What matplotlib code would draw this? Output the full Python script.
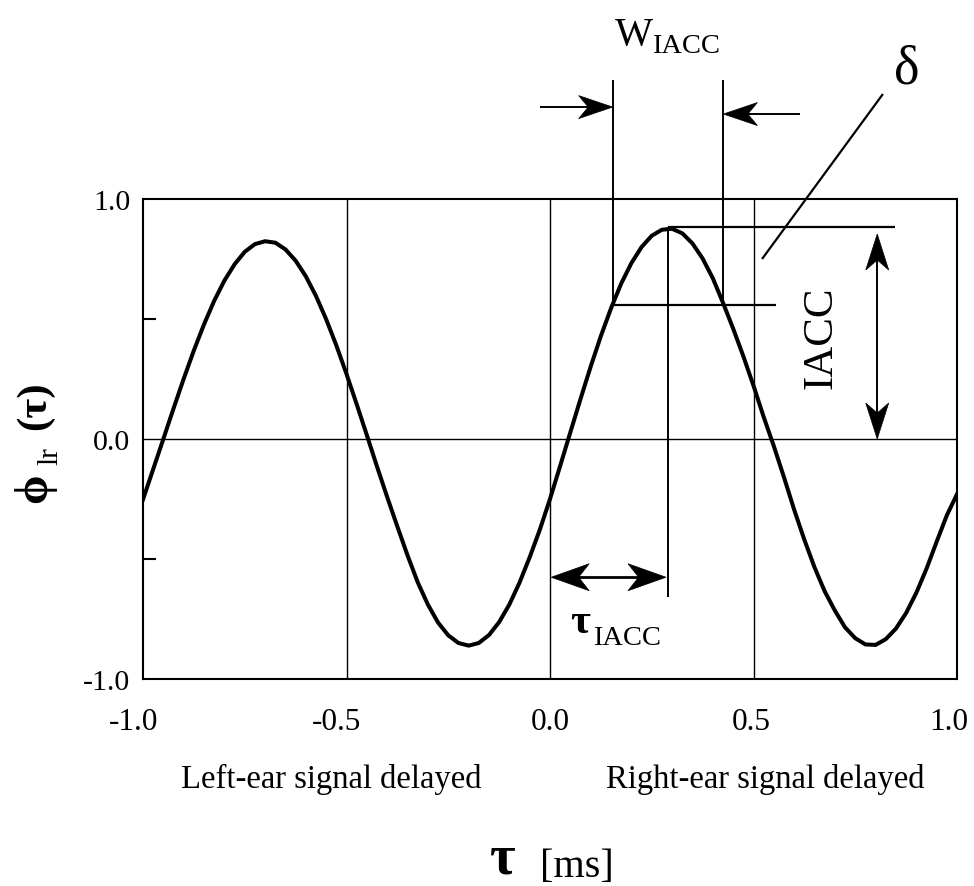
import matplotlib
matplotlib.use("Agg")
import matplotlib.pyplot as plt
from matplotlib.patches import Polygon
from matplotlib.transforms import Affine2D, ScaledTranslation
from matplotlib.ticker import FixedLocator

# Interaural cross-correlation function, sampled every 0.025 ms
tau = [-1.000, -0.975, -0.950, -0.925, -0.900, -0.875, -0.850, -0.825, -0.800,
       -0.775, -0.750, -0.725, -0.700, -0.675, -0.650, -0.625, -0.600, -0.575,
       -0.550, -0.525, -0.500, -0.475, -0.450, -0.425, -0.400, -0.375, -0.350,
       -0.325, -0.300, -0.275, -0.250, -0.225, -0.200, -0.175, -0.150, -0.125,
       -0.100, -0.075, -0.050, -0.025, 0.000, 0.025, 0.050, 0.075, 0.100,
       0.125, 0.150, 0.175, 0.200, 0.225, 0.250, 0.275, 0.300, 0.325,
       0.350, 0.375, 0.400, 0.425, 0.450, 0.475, 0.500, 0.525, 0.550,
       0.575, 0.600, 0.625, 0.650, 0.675, 0.700, 0.725, 0.750, 0.775,
       0.800, 0.825, 0.850, 0.875, 0.900, 0.925, 0.950, 0.975, 1.000]
phi = [-0.252, -0.126, 0.000, 0.127, 0.251, 0.369, 0.478, 0.576, 0.660,
       0.728, 0.780, 0.812, 0.824, 0.818, 0.790, 0.743, 0.678, 0.596,
       0.499, 0.390, 0.271, 0.145, 0.016, -0.115, -0.242, -0.365, -0.485,
       -0.597, -0.690, -0.765, -0.818, -0.850, -0.861, -0.850, -0.817, -0.763,
       -0.690, -0.599, -0.493, -0.378, -0.250, -0.112, 0.028, 0.167, 0.302,
       0.429, 0.545, 0.648, 0.733, 0.800, 0.847, 0.872, 0.876, 0.857,
       0.815, 0.752, 0.670, 0.568, 0.460, 0.345, 0.222, 0.092, -0.030,
       -0.160, -0.295, -0.420, -0.535, -0.635, -0.715, -0.785, -0.830, -0.856,
       -0.858, -0.834, -0.790, -0.725, -0.641, -0.541, -0.428, -0.318, -0.230]

# Characteristic quantities
iacc = 0.885          # maximum of the correlation
tau_iacc = 0.29       # delay of the maximum [ms]
w_level = 0.558       # level at which W_IACC is measured
w_edges = [0.154, 0.426]

x_ticks = [-1.0, -0.5, 0.0, 0.5, 1.0]
x_ticklabels = ["-1.0", "-0.5", "0.0", "0.5", "1.0"]
y_ticks = [-1.0, 0.0, 1.0]
y_ticklabels = ["-1.0", "0.0", "1.0"]

SERIF = ["Liberation Serif", "DejaVu Serif"]
plt.rcParams["font.family"] = SERIF

W, H = 974, 887
fig = plt.figure(figsize=(W / 100, H / 100), dpi=100)
ax = fig.add_axes([143 / W, 1 - 680 / H, 814 / W, 480 / H])
ax.set_xlim(-1, 1)
ax.set_ylim(-1, 1)

for s in ax.spines.values():
    s.set_linewidth(1.5)

ax.set_xticks(x_ticks)
ax.set_xticklabels(x_ticklabels, fontsize=22.5)
ax.set_yticks(y_ticks)
ax.set_yticklabels(y_ticklabels, fontsize=21.5)
ax.tick_params(axis="x", length=0, pad=20)
ax.tick_params(axis="y", length=0, pad=9)
ax.yaxis.set_minor_locator(FixedLocator([-0.5, 0.5]))
ax.tick_params(axis="y", which="minor", direction="in", length=9.5, width=1.5)

# nudge the x tick labels slightly left (pixels)
x_label_shift = [-9, -10, 0, -2, -8]
for lab, dx in zip(ax.get_xticklabels(), x_label_shift):
    lab.set_transform(lab.get_transform()
                      + ScaledTranslation(dx / 100, 0, fig.dpi_scale_trans))

# grid lines
for gx in [-0.5, 0.0, 0.5]:
    ax.axvline(gx, color="black", lw=1.0, zorder=1)
ax.axhline(0.0, color="black", lw=1.0, zorder=1)

# correlation curve
ax.plot(tau, phi, color="black", lw=2.9, solid_joinstyle="round", zorder=3)

LW = 1.4


def line(xs, ys, lw=LW):
    ax.plot(xs, ys, color="black", lw=lw, clip_on=False, zorder=2,
            solid_capstyle="butt")


def head(tip, angle, length=34, width=23):
    """Notched arrow head (pixel sized) with its point at `tip` (data)."""
    px, py = ax.transData.transform(tip)
    verts = [(0, 0), (-length, width / 2), (-0.72 * length, 0),
             (-length, -width / 2)]
    tr = Affine2D().rotate_deg(angle).translate(px, py)
    ax.add_patch(Polygon(verts, closed=True, facecolor="black",
                         edgecolor="black", lw=0.5, transform=tr,
                         clip_on=False, zorder=4))


# W_IACC construction
top_w = 1.496
line([w_edges[0], w_edges[0]], [w_level, top_w])
line([w_edges[1], w_edges[1]], [w_level, top_w])
line([w_edges[0], 0.555], [w_level, w_level], lw=1.6)
line([-0.025, w_edges[0] - 0.03], [1.383, 1.383])
head((w_edges[0], 1.383), 0)
line([0.614, w_edges[1] + 0.03], [1.354, 1.354])
head((w_edges[1], 1.354), 180)

# IACC level and tau_IACC
line([tau_iacc, 0.848], [iacc, iacc], lw=1.6)
line([tau_iacc, tau_iacc], [-0.658, iacc])

# IACC double arrow
x_ia = 0.804
line([x_ia, x_ia], [0.06, 0.80])
head((x_ia, 0.854), 90, 36, 23)
head((x_ia, 0.0), -90, 36, 23)

# tau_IACC double arrow
y_ta = -0.576
line([0.05, tau_iacc - 0.05], [y_ta, y_ta], lw=2.0)
head((0.003, y_ta), 180, 38, 27)
head((tau_iacc - 0.005, y_ta), 0, 38, 27)

# delta pointer
line([0.521, 0.818], [0.75, 1.4375], lw=1.6)


def ftext(x, y, s, **kw):
    fig.text(x / W, 1 - y / H, s, **kw)


# annotation labels
ftext(615, 45, "W", fontsize=29, ha="left", va="baseline")
ftext(652, 53, "IACC", fontsize=20.5, ha="left", va="baseline")
ftext(907, 83, "δ", fontsize=39, ha="center", va="baseline")
ftext(821, 338, "IACC", fontsize=31, rotation=90, ha="center", va="center")
ftext(580, 633, "τ", fontsize=31, fontweight="bold", ha="center", va="baseline")
ftext(593, 645, "IACC", fontsize=20.5, ha="left", va="baseline")

# side labels under the axis
ftext(331, 788, "Left-ear signal delayed", fontsize=23.5, ha="center", va="baseline")
ftext(765, 788, "Right-ear signal delayed", fontsize=23.5, ha="center", va="baseline")

# x-axis title
ftext(503, 874, "τ", fontsize=40, fontweight="bold", ha="center", va="baseline")
ftext(540, 877, "[ms]", fontsize=29, ha="left", va="baseline")

# y-axis title: phi_lr (tau)
ftext(35, 488, "ϕ", fontsize=34, fontweight="bold", rotation=90, ha="center", va="center")
ftext(50, 456, "lr", fontsize=21, rotation=90, ha="center", va="center")
ftext(35, 406, "(τ)", fontsize=31, fontweight="bold", rotation=90, ha="center", va="center")

fig.savefig("out.png", dpi=100)
